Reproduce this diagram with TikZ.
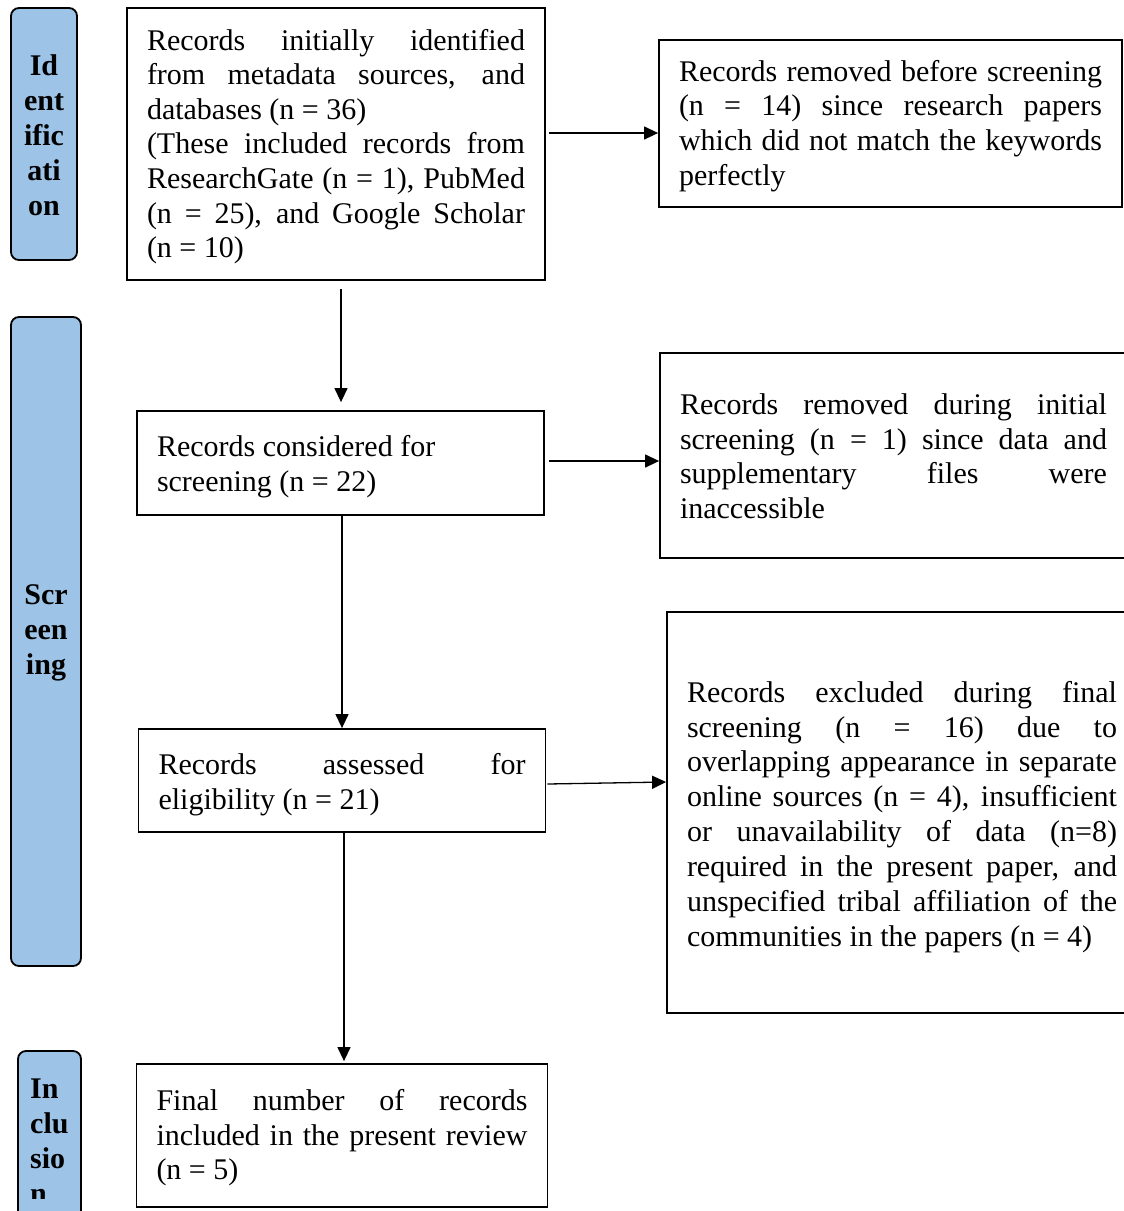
\documentclass[tikz,border=0pt]{standalone}
\usepackage{fontspec}
\setmainfont{Liberation Serif}
\usetikzlibrary{arrows.meta,calc}
\newcommand\jl[1]{\makebox[\hsize][s]{\spaceskip=0.25em plus 1fil\relax #1}\\}
\newcommand\ts[1]{\rule{0pt}{#1pt}}
\definecolor{barblue}{HTML}{9DC3E6}
\begin{document}
\begin{tikzpicture}[x=1pt,y=-1pt,
  box/.style={draw,line width=1.8pt,rectangle,inner xsep=20pt,inner ysep=0pt,align=flush left,
    font=\fontsize{30}{34.6}\selectfont},
  bar/.style={draw,line width=1.8pt,rectangle,rounded corners=8pt,fill=barblue,inner sep=0pt},
  bartext/.style={inner sep=0pt,font=\fontsize{30}{35}\selectfont\bfseries},
  arr/.style={-{Triangle[length=14pt,width=13pt]},line width=1.3pt}]
\useasboundingbox (0,0) rectangle (1124,1211);
% phase bars
\node[bar,minimum width=66pt,minimum height=252pt] (idbar) at (44,134) {};
\node[bar,minimum width=70pt,minimum height=649pt] (scrbar) at (46,641.5) {};
\node[bar,minimum width=63pt,minimum height=189pt] (incbar) at (49.5,1145.5) {};
\node[bartext,align=center] (idtext) at (44,135) {Id\\ent\\ific\\ati\\on};
\node[bartext,align=center] (scrtext) at (46,632.5) {Scr\\een\\ing};
\begin{scope}
\clip (18,1060) rectangle (81,1198);
\node[bartext,align=left,anchor=north west] (inctext) at (30,1079) {In\\clu\\sio\\n};
\end{scope}
% main boxes
\node[box,text width=378pt,minimum height=272pt] (A) at (336,144) {%
\jl{\ts{26}Records initially identified}
\jl{from metadata sources, and}
databases (n = 36)\\
\jl{(These included records from}
\jl{ResearchGate (n = 1), PubMed}
\jl{(n = 25), and Google Scholar}
(n = 10)};
\node[box,text width=423pt,minimum height=167pt] (R1) at (890.5,123.5) {%
\jl{\ts{26}Records removed before screening}
\jl{(n = 14) since research papers}
\jl{which did not match the keywords}
perfectly};
\node[box,text width=367pt,minimum height=104pt] (B) at (340.5,463) {%
\ts{28}Records considered for\\
screening (n = 22)};
\node[box,text width=427pt,minimum height=205pt] (R2) at (893.5,455.5) {%
\jl{\ts{22}Records removed during initial}
\jl{screening (n = 1) since data and}
\jl{supplementary files were}
inaccessible};
\node[box,text width=367pt,minimum height=103pt] (C) at (342,780.5) {%
\jl{\ts{29}Records assessed for}
eligibility (n = 21)};
\node[box,text width=430pt,minimum height=401pt,font=\fontsize{30}{34.9}\selectfont] (R3) at (902,812.5) {%
\jl{\ts{30}Records excluded during final}
\jl{screening (n = 16) due to}
\jl{overlapping appearance in separate}
\jl{online sources (n = 4), insufficient}
\jl{or unavailability of data (n=8)}
\jl{required in the present paper, and}
\jl{unspecified tribal affiliation of the}
communities in the papers (n = 4)};
\node[box,text width=371pt,minimum height=143pt] (D) at (342,1135.5) {%
\jl{\ts{26}Final number of records}
\jl{included in the present review}
(n = 5)};
% connectors
\coordinate (h1) at ([xshift=3pt,yshift=11pt]A.east);
\draw[arr] (h1) -- (h1 -| R1.west);
\coordinate (h2) at ([xshift=4pt,yshift=2pt]B.east);
\draw[arr] (h2) -- (h2 -| R2.west);
\draw[arr] ([xshift=1pt,yshift=-3.5pt]C.east) -- ([yshift=30.5pt]R3.west);
\coordinate (v1) at ([xshift=5pt]A.south);
\draw[arr,shorten <=8pt,shorten >=8pt] (v1) -- (v1 |- B.north);
\coordinate (v2) at ([xshift=1.5pt]B.south);
\draw[arr] (v2) -- (v2 |- C.north);
\coordinate (v3) at ([xshift=2pt]C.south);
\draw[arr,shorten >=2pt] (v3) -- (v3 |- D.north);
\end{tikzpicture}
\end{document}
